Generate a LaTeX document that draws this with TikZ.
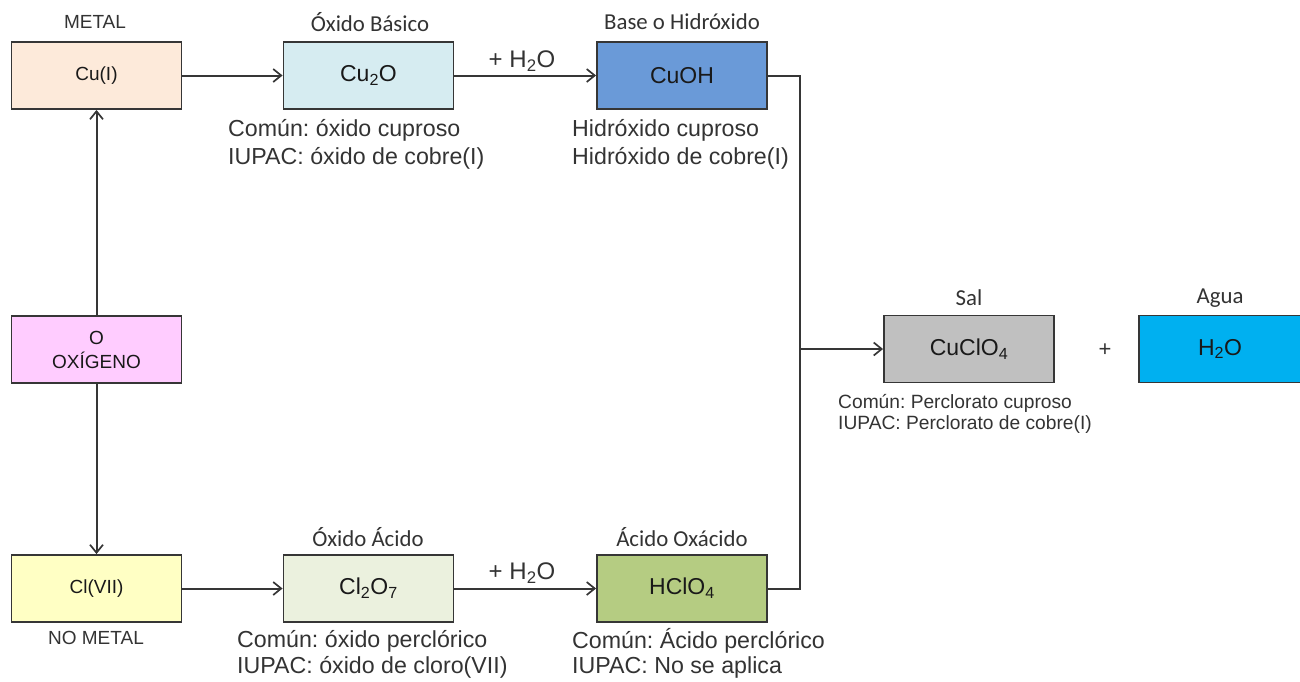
\documentclass[tikz,border=0pt]{standalone}
\usepackage{fontspec}
\setmainfont{Liberation Sans}
\newfontfamily\calfont{Carlito}
\usetikzlibrary{arrows.meta}
\frenchspacing
\definecolor{metalfill}{HTML}{FDEADA}
\definecolor{basicfill}{HTML}{D6ECF1}
\definecolor{basefill}{HTML}{6A9AD8}
\definecolor{oxyfill}{HTML}{FFCCFF}
\definecolor{nonmetalfill}{HTML}{FFFFC4}
\definecolor{acidoxfill}{HTML}{EBF1DE}
\definecolor{acidfill}{HTML}{B5CC82}
\definecolor{saltfill}{HTML}{C0C0C0}
\definecolor{waterfill}{HTML}{00B0F0}
\definecolor{linegray}{HTML}{363636}
\definecolor{textgray}{HTML}{333333}
\tikzset{
  box/.style={draw=linegray, line width=1.9pt, minimum width=170pt, minimum height=67pt,
    inner sep=0pt, align=center, text=black!90},
  small/.style={font=\fontsize{19}{22}\selectfont},
  big/.style={font=\fontsize{23}{26}\selectfont},
  head/.style={font=\calfont\fontsize{22.8}{26}\selectfont, text=textgray, inner sep=0pt},
  note/.style={font=\fontsize{23.2}{26}\selectfont, text=textgray, anchor=west, inner sep=0pt, align=left},
  smallnote/.style={font=\fontsize{19.2}{21}\selectfont, text=textgray, anchor=west, inner sep=0pt, align=left},
  conn/.style={draw=linegray, line width=2pt},
  arr/.style={conn, -{Straight Barb[length=8pt,width=13pt,line width=1.7pt]}},
}
\begin{document}
\begin{tikzpicture}[x=1pt,y=-1pt]
\useasboundingbox (0,0) rectangle (1300,681);
% boxes
\node[box, small, fill=metalfill] (cu) at (96.5,75.5) {Cu(I)};
\node[box, big, fill=basicfill] (cuo) at (368.5,75.5) {Cu\textsubscript{2}O};
\node[box, big, fill=basefill] (cuoh) at (682,75.5) {CuOH};
\node[box, small, fill=oxyfill, font=\fontsize{19}{24}\selectfont] (ox) at (96.5,349.5) {O\\OXÍGENO};
\node[box, small, fill=nonmetalfill] (cl) at (96.5,588.5) {Cl(VII)};
\node[box, big, fill=acidoxfill] (clo) at (368.5,588.5) {Cl\textsubscript{2}O\textsubscript{7}};
\node[box, big, fill=acidfill] (hclo) at (682,588.5) {HClO\textsubscript{4}};
\node[box, big, fill=saltfill] (salt) at (969,349) {CuClO\textsubscript{4}};
\node[box, big, fill=waterfill, minimum width=162pt] (water) at (1220,349) {H\textsubscript{2}O};
% headings
\node[small, text=textgray, inner sep=0pt] (lmetal) at (95,22) {METAL};
\node[head] (lbasic) at (370,22) {Óxido Básico};
\node[head] (lbase) at (682,22) {Base o Hidróxido};
\node[small, text=textgray, inner sep=0pt] (lnonmetal) at (96,638) {NO METAL};
\node[head] (lacidox) at (368,537) {Óxido Ácido};
\node[head] (lacid) at (682,537) {Ácido Oxácido};
\node[head] (lsalt) at (969,298) {Sal};
\node[head] (lwater) at (1220,298) {Agua};
\node[font=\fontsize{22}{26}\selectfont, text=textgray] (plus) at (1105,350) {+};
% reaction labels
\node[font=\fontsize{24}{28}\selectfont, text=textgray, inner sep=0pt] (w1) at (522,61) {+ H\textsubscript{2}O};
\node[font=\fontsize{24}{28}\selectfont, text=textgray, inner sep=0pt] (w2) at (522,573) {+ H\textsubscript{2}O};
% names
\node[note] (n1) at (228,130) {Común: óxido cuproso};
\node[note] (n2) at (228,158) {IUPAC: óxido de cobre(I)};
\node[note] (n3) at (572,130) {Hidróxido cuproso};
\node[note] (n4) at (572,158) {Hidróxido de cobre(I)};
\node[note] (n5) at (237,641) {Común: óxido perclórico};
\node[note] (n6) at (237,667) {IUPAC: óxido de cloro(VII)};
\node[note] (n7) at (572,641) {Común: Ácido perclórico};
\node[note] (n8) at (572,667) {IUPAC: No se aplica};
\node[smallnote] (n9) at (838,403) {Común: Perclorato cuproso};
\node[smallnote] (n10) at (838,425) {IUPAC: Perclorato de cobre(I)};
% connectors
\coordinate (jtop) at ([xshift=32pt]cuoh.east);
\coordinate (jbot) at ([xshift=32pt]hclo.east);
\coordinate (jmid) at (jtop |- salt.west);
\draw[arr] (ox.north) -- (cu.south);
\draw[arr] (ox.south) -- (cl.north);
\draw[arr] (cu.east) -- (cuo.west);
\draw[arr] (cuo.east) -- (cuoh.west);
\draw[arr] (cl.east) -- (clo.west);
\draw[arr] (clo.east) -- (hclo.west);
\draw[conn] (cuoh.east) -- (jtop) -- (jbot) -- (hclo.east);
\draw[arr] (jmid) -- (salt.west);
\end{tikzpicture}
\end{document}
